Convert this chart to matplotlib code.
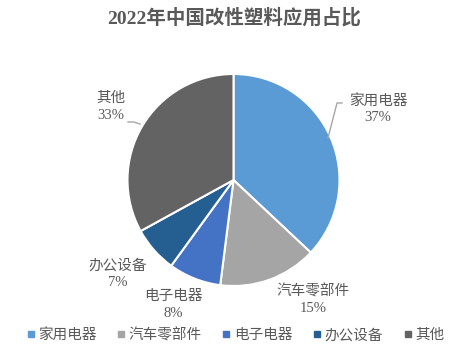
import matplotlib.pyplot as plt
from matplotlib.lines import Line2D

categories = ["家用电器", "汽车零部件", "电子电器", "办公设备", "其他"]
shares = [37, 15, 8, 7, 33]
colors = ["#5B9BD5", "#A5A5A5", "#4472C4", "#255E91", "#636363"]

# label centres in pixel space (x, y from top)
label_pos = [(378, 109), (313, 300), (173, 305), (118, 274), (111, 107)]

FONT = ["Liberation Serif", "Noto Sans CJK SC"]
TXT = "#595959"
W, H = 469, 354

fig = plt.figure(figsize=(W / 100, H / 100), dpi=100)
ax = fig.add_axes([0, 0, 1, 1])
ax.set_xlim(0, W)
ax.set_ylim(0, H)
ax.set_aspect("equal")
ax.axis("off")

cx, cy, r = 233.5, H - 180, 106
ax.pie(shares, colors=colors, startangle=90, counterclock=False,
       center=(cx, cy), radius=r, frame=True,
       wedgeprops=dict(edgecolor="white", linewidth=1.5))
ax.set_xlim(0, W)
ax.set_ylim(0, H)
ax.axis("off")

for cat, s, (x, y) in zip(categories, shares, label_pos):
    ax.text(x, H - y, f"{cat}\n{s}%", ha="center", va="center",
            fontsize=10.5, color=TXT, family=FONT, linespacing=1.35)

# leader lines
ax.plot([342, 337, 328], [H - 103, H - 103, H - 138], color="#A6A6A6", lw=1)
ax.plot([128, 134, 140], [H - 122, H - 122, H - 124], color="#A6A6A6", lw=1)

fig.text(0.5, 1 - 18 / H, "2022年中国改性塑料应用占比", ha="center", va="center",
         fontsize=14, fontweight="bold", color=TXT, family=FONT)

handles = [Line2D([], [], marker="s", linestyle="none", markersize=4,
                  markerfacecolor=c, markeredgecolor=c) for c in colors]
fig.legend(handles, categories, loc="center", bbox_to_anchor=(0.5, 1 - 335 / H),
           ncol=5, frameon=False, handletextpad=0.1, columnspacing=1.3,
           handlelength=0.8, prop=dict(family=FONT, size=10.5), labelcolor=TXT)

fig.savefig("out.png", dpi=100)
